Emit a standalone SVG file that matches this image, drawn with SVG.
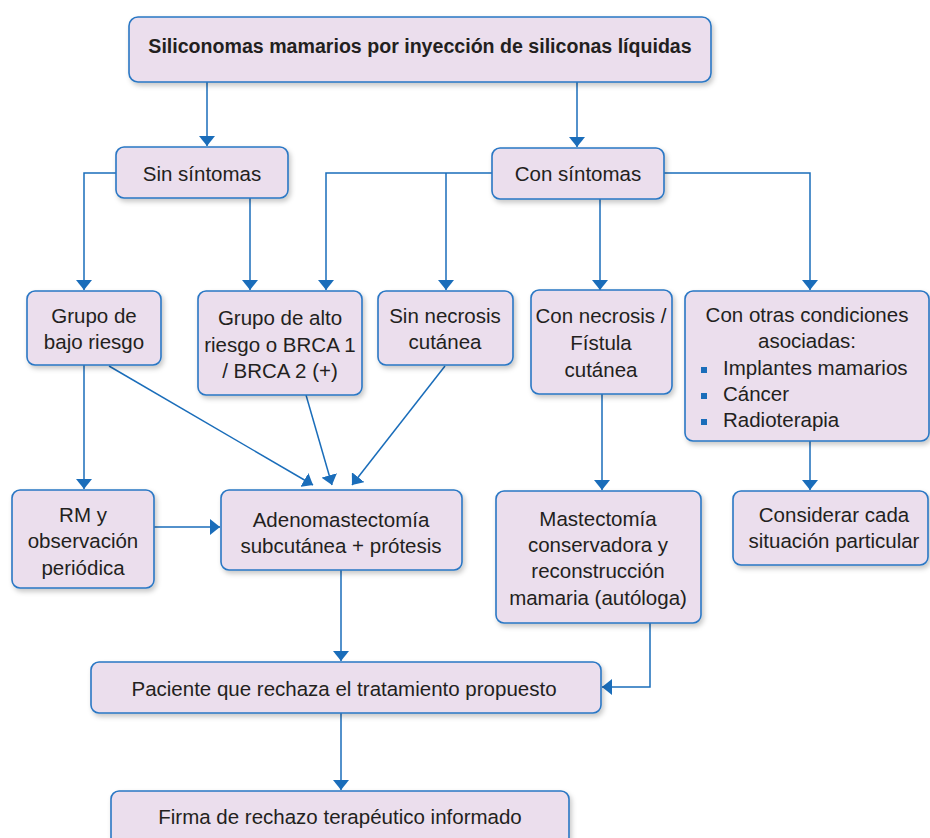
<svg xmlns="http://www.w3.org/2000/svg" width="930" height="838" viewBox="0 0 930 838">
<defs>
<filter id="sh" x="-10%" y="-10%" width="130%" height="140%">
<feDropShadow dx="2" dy="3" stdDeviation="2.5" flood-color="#000" flood-opacity="0.22"/>
</filter>
<marker id="ah" viewBox="0 0 10 16" refX="10" refY="8" markerWidth="10" markerHeight="16" orient="auto" markerUnits="userSpaceOnUse" preserveAspectRatio="none">
<path d="M0,0 L10,8 L0,16 z" fill="#1a6dba"/>
</marker>
</defs>
<style>
.box{fill:#ebdeed;stroke:#2a77c4;stroke-width:1.6;filter:url(#sh)}
.t{font-family:"Liberation Sans",Arial,sans-serif;font-size:20.5px;fill:#231f20;text-anchor:middle}
.tl{text-anchor:start}
.b{font-weight:bold;font-size:19.6px}
.c{fill:none;stroke:#1a6dba;stroke-width:1.5}
.c path{marker-end:url(#ah)}
.bul{fill:#1a6dba}
</style>
<rect width="930" height="838" fill="#fff"/>

<g id="connectors" class="c">
<path d="M207,82 V146"/>
<path d="M577,82 V147"/>
<path d="M116,173 H84 V290"/>
<path d="M250,198 V290"/>
<path d="M492,173 H326 V290"/>
<path d="M446,173 V290"/>
<path d="M600,199 V290"/>
<path d="M664,173 H810 V290"/>
<path d="M84,365 V489"/>
<path d="M109,366 L313,485"/>
<path d="M306,395 L332,485"/>
<path d="M445,366 L352,485"/>
<path d="M154,527 H220"/>
<path d="M341,570 V661"/>
<path d="M602,394 V490"/>
<path d="M810,441 V490"/>
<path d="M650,623 V687 H602"/>
<path d="M341,713 V790"/>
</g>

<g id="n-top"><rect class="box" x="129" y="17" width="582" height="65" rx="9"/>
<text class="t b" x="420" y="53">Siliconomas mamarios por inyección de siliconas líquidas</text></g>

<g id="n-sin"><rect class="box" x="116" y="147" width="172" height="51" rx="8"/>
<text class="t" x="202" y="181">Sin síntomas</text></g>

<g id="n-con"><rect class="box" x="492" y="148" width="172" height="51" rx="8"/>
<text class="t" x="578" y="181">Con síntomas</text></g>

<g id="n-bajo"><rect class="box" x="27" y="291" width="134" height="74" rx="8"/>
<text class="t" x="94" y="323">Grupo de</text>
<text class="t" x="94" y="349">bajo riesgo</text></g>

<g id="n-alto"><rect class="box" x="198" y="291" width="164" height="104" rx="8"/>
<text class="t" x="280" y="325">Grupo de alto</text>
<text class="t" x="280" y="352">riesgo o BRCA 1</text>
<text class="t" x="280" y="378">/ BRCA 2 (+)</text></g>

<g id="n-sinnec"><rect class="box" x="378" y="291" width="135" height="74" rx="8"/>
<text class="t" x="445" y="323">Sin necrosis</text>
<text class="t" x="445" y="349">cutánea</text></g>

<g id="n-connec"><rect class="box" x="531" y="290" width="141" height="104" rx="8"/>
<text class="t" x="601" y="323">Con necrosis /</text>
<text class="t" x="601" y="350">Fístula</text>
<text class="t" x="601" y="377">cutánea</text></g>

<g id="n-otras"><rect class="box" x="685" y="291" width="244" height="150" rx="8"/>
<text class="t" x="807" y="322">Con otras condiciones</text>
<text class="t" x="807" y="348">asociadas:</text>
<rect class="bul" x="701" y="367" width="6" height="6"/>
<rect class="bul" x="701" y="393" width="6" height="6"/>
<rect class="bul" x="701" y="419" width="6" height="6"/>
<text class="t tl" x="723" y="375">Implantes mamarios</text>
<text class="t tl" x="723" y="401">Cáncer</text>
<text class="t tl" x="723" y="427">Radioterapia</text></g>

<g id="n-rm"><rect class="box" x="12" y="490" width="142" height="98" rx="8"/>
<text class="t" x="83" y="522">RM y</text>
<text class="t" x="83" y="548">observación</text>
<text class="t" x="83" y="575">periódica</text></g>

<g id="n-adeno"><rect class="box" x="221" y="490" width="241" height="80" rx="8"/>
<text class="t" x="341" y="527">Adenomastectomía</text>
<text class="t" x="341" y="553">subcutánea + prótesis</text></g>

<g id="n-mast"><rect class="box" x="496" y="491" width="205" height="132" rx="8"/>
<text class="t" x="598" y="526">Mastectomía</text>
<text class="t" x="598" y="552">conservadora y</text>
<text class="t" x="598" y="578">reconstrucción</text>
<text class="t" x="598" y="605">mamaria (autóloga)</text></g>

<g id="n-consid"><rect class="box" x="733" y="491" width="195" height="74" rx="8"/>
<text class="t" x="834" y="522">Considerar cada</text>
<text class="t" x="834" y="548">situación particular</text></g>

<g id="n-paciente"><rect class="box" x="91" y="662" width="510" height="51" rx="8"/>
<text class="t" x="344" y="696">Paciente que rechaza el tratamiento propuesto</text></g>

<g id="n-firma"><rect class="box" x="111" y="791" width="458" height="60" rx="8"/>
<text class="t" x="340" y="824">Firma de rechazo terapéutico informado</text></g>
</svg>
